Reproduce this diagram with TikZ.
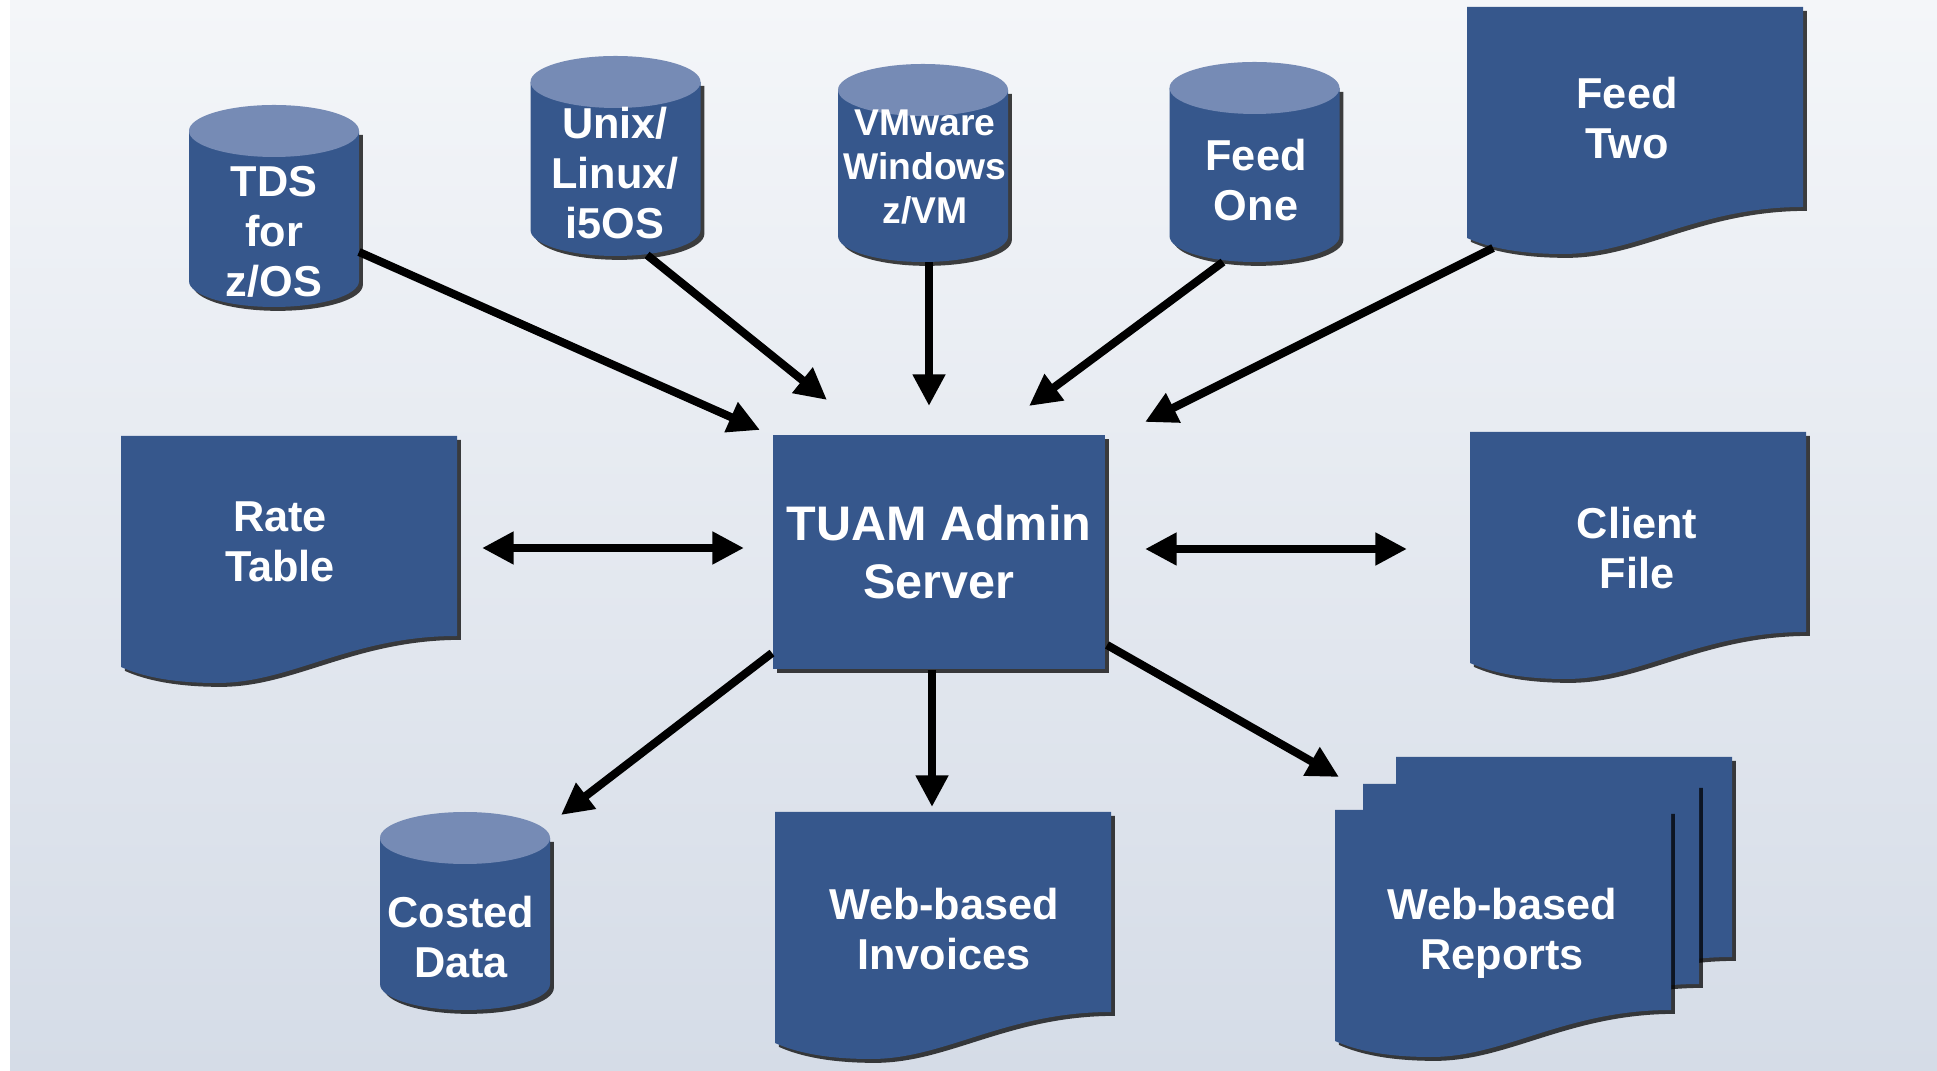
\documentclass[tikz,border=0pt]{standalone}
\usepackage{fontspec}
\setmainfont{Liberation Sans}
\usetikzlibrary{arrows.meta,calc,shadows}
\definecolor{boxblue}{RGB}{54,87,140}
\definecolor{cyltopc}{RGB}{118,139,181}
\definecolor{bgtop}{RGB}{244,246,249}
\definecolor{bgbot}{RGB}{213,220,231}
\tikzset{
  shapefill/.style={fill=boxblue, drop shadow={shadow xshift=1.1pt, shadow yshift=-1.1pt, fill=black, opacity=0.75}},
  lbl/.style={text=white, font=\bfseries\fontsize{12.3}{14.3}\selectfont, align=center, inner sep=0pt},
  biglbl/.style={lbl, font=\bfseries\fontsize{13.8}{16.5}\selectfont},
  smalllbl/.style={lbl, font=\bfseries\fontsize{10.6}{12.5}\selectfont},
  tip/.tip={Triangle[length=9pt,width=8.8pt]},
  conn/.style={line width=2.3pt, -tip},
  biconn/.style={line width=2.3pt, tip-tip},
}
% cylinder: centre x, top y, bottom y
\newcommand\mycyl[3]{%
  \fill[shapefill] (#1-85,#2+26) -- (#1-85,#3-26)
     arc[start angle=180, end angle=0, x radius=85, y radius=26] -- (#1+85,#2+26) -- cycle;
  \fill[cyltopc] (#1,#2+26) ellipse[x radius=85, y radius=26];}
% document: left x, top y
\newcommand\mydoc[2]{%
  \fill[shapefill] (#1,#2) -- (#1+336,#2) -- (#1+336,#2+200)
     .. controls (#1+230,#2+200) and (#1+170,#2+247) .. (#1+96,#2+247)
     .. controls (#1+50,#2+247) and (#1+20,#2+240) .. (#1,#2+231) -- cycle;}
\begin{document}
\begin{tikzpicture}[x=0.01cm, y=-0.01cm]
\useasboundingbox (0,0) rectangle (1937,1071);
% background
\fill[white] (0,0) rectangle (1937,1071);
\shade[top color=bgtop, bottom color=bgbot] (10,0) rectangle (1937,1071);

% shapes
\mycyl{274}{105}{307}
\mycyl{615.5}{56}{256}
\mycyl{923}{64}{262}
\mycyl{1254.5}{62}{262}
\mycyl{465}{812}{1010}
\mydoc{1467}{7}
\mydoc{121}{436}
\mydoc{1470}{432}
\mydoc{775}{812}
\mydoc{1396}{757}
\mydoc{1363}{784}
\mydoc{1335}{810}
\fill[shapefill] (773,435) rectangle (1105,669);

% labels
\node[lbl] (tds) at (274,232) {TDS\\for\\z/OS};
\node[lbl] (unix) at (615,173) {Unix/\\Linux/\\i5OS};
\node[smalllbl] (vmw) at (925,167) {VMware\\Windows\\z/VM};
\node[lbl] (feedone) at (1256,180) {Feed\\One};
\node[lbl] (feedtwo) at (1627,118) {Feed\\Two};
\node[lbl] (rate) at (280,542) {Rate\\Table};
\node[biglbl] (server) at (939,552) {TUAM Admin\\Server};
\node[lbl] (client) at (1637,548) {Client\\File};
\node[lbl] (costed) at (461,937) {Costed\\Data};
\node[lbl] (invoices) at (944,929) {Web-based\\Invoices};
\node[lbl] (reports) at (1502,933) {Web-based\\Reports};

% connectors
\draw[conn] ($(tds)+(85,20)$) -- ($(server)+(-179,-122)$);
\draw[conn] ($(unix)+(32,82)$) -- ($(server)+(-112,-152)$);
\draw[conn] ($(vmw)+(4,95)$) -- ($(server)+(-10,-146)$);
\draw[conn] ($(feedone)+(-33,82)$) -- ($(server)+(90,-146)$);
\draw[conn] ($(feedtwo)+(-134,130)$) -- ($(server)+(206,-130)$);
\draw[biconn] ($(rate)+(202,6)$) -- ($(server)+(-195,-4)$);
\draw[biconn] ($(server)+(206,-3)$) -- ($(client)+(-230,1)$);
\draw[conn] ($(server)+(-167,101)$) -- ($(costed)+(100,-122)$);
\draw[conn] ($(server)+(-7,118)$) -- ($(invoices)+(-12,-122)$);
\draw[conn] ($(server)+(168,93)$) -- ($(reports)+(-163,-156)$);
\end{tikzpicture}
\end{document}
